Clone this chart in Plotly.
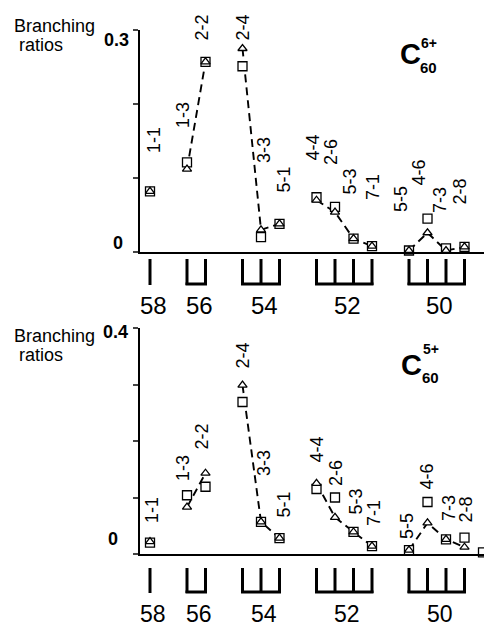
import plotly.graph_objects as go

# ---------------- data ----------------
channels = ["1-1", "1-3", "2-2", "2-4", "3-3", "5-1", "4-4", "2-6",
            "5-3", "7-1", "5-5", "4-6", "7-3", "2-8"]
# C60 6+ panel
top_square = [0.082, 0.121, 0.257, 0.251, 0.020, 0.038, 0.074, 0.061,
              0.018, 0.008, 0.002, 0.045, 0.005, 0.007]
top_triangle = [0.082, 0.112, 0.257, 0.275, 0.030, 0.038, 0.070, 0.054,
                0.018, 0.008, 0.002, 0.026, 0.002, 0.007]
# C60 5+ panel
bot_square = [0.020, 0.104, 0.119, 0.269, 0.057, 0.028, 0.115, 0.100,
              0.039, 0.014, 0.007, 0.092, 0.026, 0.029]
bot_triangle = [0.022, 0.083, 0.143, 0.299, 0.057, 0.028, 0.125, 0.065,
                0.039, 0.014, 0.007, 0.055, 0.026, 0.012]
bot_extra_square = [0.003]
group_labels = [58, 56, 54, 52, 50]
top_yticks = [0, 0.1, 0.2, 0.3]
bot_yticks = [0, 0.1, 0.2, 0.3, 0.4]

# ------------- positions (one slot per channel, one-slot gap between groups)
groups = [60 - sum(int(v) for v in c.split("-")) for c in channels]
xpos, slot, prev = [], 0, None
for g in groups:
    if prev is not None:
        slot += 1 if g == prev else 2
    xpos.append(slot)
    prev = g
extra_x = [xpos[-1] + 1]

W, H = 484, 627
FONT = "Liberation Sans, Arial, sans-serif"


def py(p):  # pixel row -> paper y
    return 1 - p / H


def px(p):  # pixel column -> paper x
    return p / W


def broken(vals):
    xs, ys = [], []
    for i, (x, v) in enumerate(zip(xpos, vals)):
        if i > 0 and groups[i] != groups[i - 1]:
            xs.append(None)
            ys.append(None)
        xs.append(x)
        ys.append(v)
    return xs, ys


fig = go.Figure()
line_style = dict(color="black", width=1.9, dash="8px,5px")

for sq, tr, xa, ya in [(top_square, top_triangle, "x", "y"),
                       (bot_square, bot_triangle, "x2", "y2")]:
    lx, ly = broken(tr)
    fig.add_trace(go.Scatter(x=lx, y=ly, mode="lines", line=line_style,
                             xaxis=xa, yaxis=ya, showlegend=False,
                             connectgaps=False, cliponaxis=False))
    fig.add_trace(go.Scatter(x=xpos, y=sq, mode="markers", xaxis=xa, yaxis=ya,
                             marker=dict(symbol="square", size=9, color="white",
                                         line=dict(color="black", width=1.3)),
                             showlegend=False, cliponaxis=False))
    fig.add_trace(go.Scatter(x=xpos, y=tr, mode="markers", xaxis=xa, yaxis=ya,
                             marker=dict(symbol="triangle-up", size=8, color="white",
                                         line=dict(color="black", width=1.3)),
                             showlegend=False, cliponaxis=False))

fig.add_trace(go.Scatter(x=extra_x, y=bot_extra_square, mode="markers",
                         xaxis="x2", yaxis="y2",
                         marker=dict(symbol="square", size=9, color="white",
                                     line=dict(color="black", width=1.3)),
                         showlegend=False, cliponaxis=False))

xr = [(140 - 150) / 18.5, (484 - 150) / 18.5]
axis_common = dict(showgrid=False, zeroline=False, showline=True,
                   linecolor="black", linewidth=2)
fig.update_layout(
    width=W, height=H, margin=dict(l=0, r=0, t=0, b=0),
    paper_bgcolor="white", plot_bgcolor="white",
    font=dict(family=FONT, color="black"),
    xaxis=dict(domain=[140 / W, 1], range=xr, anchor="y", showticklabels=False,
               ticks="", **axis_common),
    xaxis2=dict(domain=[140 / W, 1], range=xr, anchor="y2", showticklabels=False,
                ticks="", **axis_common),
    yaxis=dict(domain=[py(252), py(30)], range=[0, 0.3], anchor="x",
               tickvals=top_yticks, ticks="outside", ticklen=5, tickwidth=2,
               showticklabels=False, **axis_common),
    yaxis2=dict(domain=[py(554), py(328)], range=[0, 0.4], anchor="x2",
                tickvals=bot_yticks, ticks="outside", ticklen=5, tickwidth=2,
                showticklabels=False, **axis_common),
)

ann = []
shapes = []

# channel labels (rotated)
top_lab = dict(zip(channels, [(4, 140), (-4, 115), (-4, 28), (0, 28), (3, 150),
                              (4, 180), (-4, 148), (-4, 152), (-4, 182), (1, 187),
                              (-8, 199), (-9, 173), (-6, 200), (-5, 192)]))
bot_lab = dict(zip(channels, [(2, 510), (-4, 468), (-4, 437), (0, 356), (3, 463),
                              (4, 505), (0, 450), (1, 473), (2, 502), (2, 513),
                              (-2, 526), (-1, 477), (3, 508), (1, 510)]))
for labs, xa in [(top_lab, "x"), (bot_lab, "x2")]:
    for c, x in zip(channels, xpos):
        dx, yy = labs[c]
        ann.append(dict(x=x, y=py(yy), xref=xa, yref="paper", xshift=dx,
                        text=c, textangle=-90, showarrow=False,
                        font=dict(size=18), xanchor="center", yanchor="middle"))

# group brackets and group labels
gorder = []
for g in groups:
    if g not in gorder:
        gorder.append(g)
for xa, (ytop, ybot, ylab, fs) in [("x", (259, 285, 305, 24)),
                                   ("x2", (568, 593, 614, 23))]:
    for g, glab in zip(gorder, group_labels):
        xs = [x for x, gg in zip(xpos, groups) if gg == g]
        for x in xs:
            shapes.append(dict(type="line", xref=xa, yref="paper", x0=x, x1=x,
                               y0=py(ytop), y1=py(ybot),
                               line=dict(color="black", width=3)))
        if len(xs) > 1:
            shapes.append(dict(type="line", xref=xa, yref="paper",
                               x0=xs[0] - 0.08, x1=xs[-1] + 0.08,
                               y0=py(ybot - 1), y1=py(ybot - 1),
                               line=dict(color="black", width=3)))
        ann.append(dict(x=sum(xs) / len(xs), y=py(ylab), xref=xa, yref="paper",
                        xshift=3, text=str(glab), showarrow=False,
                        font=dict(size=fs), xanchor="center", yanchor="middle",
                        borderpad=0))

# axis captions and tick labels
for (bx, by), (rx, ry), (t_txt, tx, ty), (zx, zy) in [
        ((54, 26), (41, 45), ("0.3", 116, 40), (118, 243)),
        ((54, 336), (41, 355), ("0.4", 115, 332), (113, 539))]:
    ann.append(dict(x=px(bx), y=py(by), xref="paper", yref="paper", text="Branching",
                    showarrow=False, font=dict(size=18), xanchor="center", yanchor="middle"))
    ann.append(dict(x=px(rx), y=py(ry), xref="paper", yref="paper", text="ratios",
                    showarrow=False, font=dict(size=18), xanchor="center", yanchor="middle"))
    ann.append(dict(x=px(tx), y=py(ty), xref="paper", yref="paper", text="<b>%s</b>" % t_txt,
                    showarrow=False, font=dict(size=18), xanchor="center", yanchor="middle"))
    ann.append(dict(x=px(zx), y=py(zy), xref="paper", yref="paper", text="<b>0</b>",
                    showarrow=False, font=dict(size=18), xanchor="center", yanchor="middle"))

# panel titles C60^6+ and C60^5+
for (cx, cy), (sx, sy, sup), (bx2, by2) in [((410, 54), (429, 43, "6+"), (428, 67)),
                                           ((411, 365), (431, 349, "5+"), (430, 377))]:
    ann.append(dict(x=px(cx), y=py(cy), xref="paper", yref="paper", text="<b>C</b>",
                    showarrow=False, font=dict(size=29), xanchor="center", yanchor="middle"))
    ann.append(dict(x=px(sx), y=py(sy), xref="paper", yref="paper", text="<b>%s</b>" % sup,
                    showarrow=False, font=dict(size=14), xanchor="center", yanchor="middle"))
    ann.append(dict(x=px(bx2), y=py(by2), xref="paper", yref="paper", text="<b>60</b>",
                    showarrow=False, font=dict(size=15), xanchor="center", yanchor="middle"))

fig.update_layout(annotations=ann, shapes=shapes)
fig.write_html("out.html", config={"displayModeBar": False},
               post_script="document.body.style.margin='0';"
                           "document.body.style.overflow='hidden';")
